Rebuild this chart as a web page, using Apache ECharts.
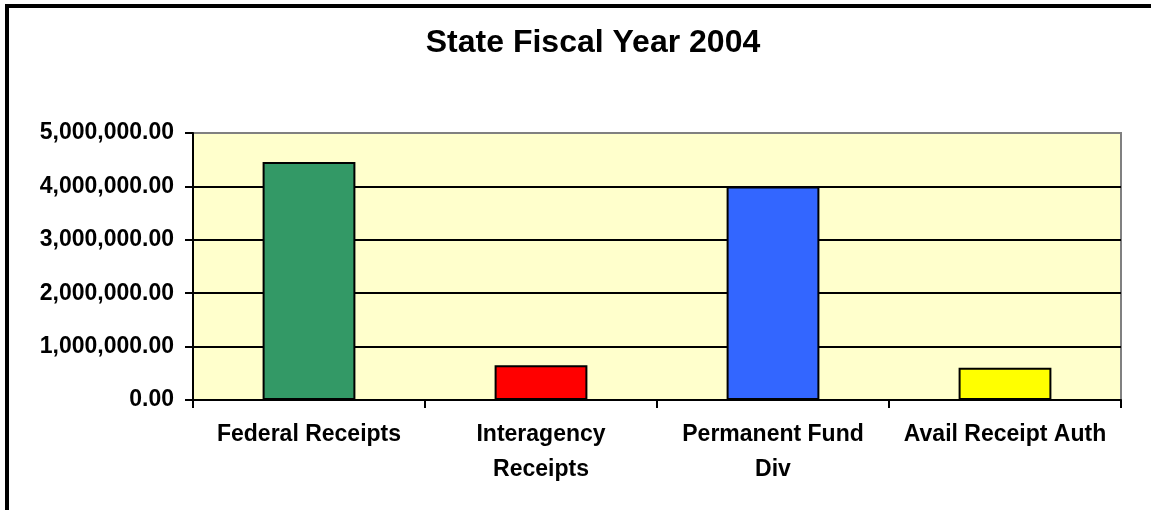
<!DOCTYPE html>
<html>
<head>
<meta charset="utf-8">
<script src="https://cdn.jsdelivr.net/npm/echarts@6/dist/echarts.min.js"></script>
<style>
  html, body { margin: 0; padding: 0; width: 1151px; height: 510px; overflow: hidden; background: #fff; }
  #frame { position: absolute; left: 5px; top: 4px; width: 3000px; height: 3000px; border: 4px solid #000; box-sizing: border-box; }
  #chart { position: absolute; left: 0; top: 0; width: 1151px; height: 510px; }
</style>
</head>
<body>
<div id="frame"></div>
<div id="chart"></div>
<script>
const titleText = 'State Fiscal Year 2004';
const categories = ['Federal Receipts', 'Interagency\nReceipts', 'Permanent Fund\nDiv', 'Avail Receipt Auth'];
const values = [4457000, 650000, 4000000, 606000];
const barColors = ['#339966', '#FF0000', '#3366FF', '#FFFF00'];
const yMin = 0, yMax = 5000000, yInterval = 1000000;

const fmt = new Intl.NumberFormat('en-US', { minimumFractionDigits: 2, maximumFractionDigits: 2 });
const font = '"Liberation Sans", Arial, sans-serif';

const chart = echarts.init(document.getElementById('chart'), null, { renderer: 'canvas' });
chart.setOption({
  animation: false,
  backgroundColor: 'transparent',
  graphic: [{
    type: 'text',
    x: 593, y: 43,
    style: {
      text: titleText,
      fontFamily: font, fontWeight: 'bold', fontSize: 32,
      fill: '#000', align: 'center', verticalAlign: 'middle'
    }
  }],
  grid: {
    left: 193, right: 30, top: 133, bottom: 110,
    show: true, backgroundColor: '#FFFFCC', borderColor: '#808080', borderWidth: 2
  },
  xAxis: {
    type: 'category',
    data: categories,
    axisLine: { lineStyle: { color: '#000', width: 2 } },
    axisTick: { show: true, length: 8, lineStyle: { color: '#000', width: 2 } },
    axisLabel: {
      color: '#000', fontFamily: font, fontWeight: 'bold', fontSize: 23,
      lineHeight: 35, margin: 17, interval: 0
    }
  },
  yAxis: {
    type: 'value',
    min: yMin, max: yMax, interval: yInterval,
    axisLine: { show: true, lineStyle: { color: '#000', width: 2 } },
    axisTick: { show: true, length: 8, lineStyle: { color: '#000', width: 2 } },
    axisLabel: {
      color: '#000', fontFamily: font, fontWeight: 'bold', fontSize: 23, margin: 19,
      formatter: v => fmt.format(v)
    },
    splitLine: { show: true, lineStyle: { color: ['#000', '#000', '#000', '#000', '#000', '#808080'], width: 2 } }
  },
  series: [{
    type: 'bar',
    barWidth: '40%',
    data: values.map((v, i) => ({ value: v, itemStyle: { color: barColors[i] } })),
    itemStyle: { borderColor: '#000', borderWidth: 2 }
  }]
});
</script>
</body>
</html>
